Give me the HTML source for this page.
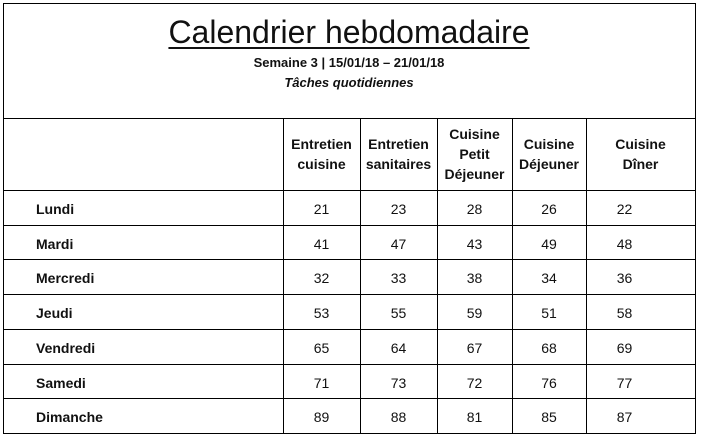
<!DOCTYPE html>
<html><head><meta charset="utf-8"><style>
body{margin:0;width:702px;height:437px;background:#fff;position:relative;overflow:hidden;font-family:"Liberation Sans",sans-serif;color:#111}
.a{position:absolute}
.ln{position:absolute;background:#000}
.t{position:absolute;text-align:center;font-size:14px}
</style></head><body>
<div class="a" style="left:3px;width:692px;top:14px;text-align:center;font-size:32px;"><span style="text-decoration:underline;text-decoration-thickness:2px;text-underline-offset:4px">Calendrier hebdomadaire</span></div>
<div class="a" style="left:3px;width:692px;top:55px;text-align:center;font-size:13px;font-weight:bold">Semaine 3 | 15/01/18 – 21/01/18</div>
<div class="a" style="left:3px;width:692px;top:75px;text-align:center;font-size:13px;font-weight:bold;font-style:italic">Tâches quotidiennes</div>
<div id="grid"></div>
<script>
const columns=["Entretien<br>cuisine","Entretien<br>sanitaires","Cuisine<br>Petit<br>Déjeuner","Cuisine<br>Déjeuner","Cuisine<br>Dîner"];
const days=["Lundi","Mardi","Mercredi","Jeudi","Vendredi","Samedi","Dimanche"];
const entretienCuisine=[21,41,32,53,65,71,89];
const entretienSanitaires=[23,47,33,55,64,73,88];
const cuisinePetitDej=[28,43,38,59,67,72,81];
const cuisineDejeuner=[26,49,34,51,68,76,85];
const cuisineDiner=[22,48,36,58,69,77,87];
const series=[entretienCuisine,entretienSanitaires,cuisinePetitDej,cuisineDejeuner,cuisineDiner];
const g=document.getElementById('grid');
const colX=[283,360,437,512,586,695];
const L=3,R=695,T=3,B=433,titleB=118,headB=190;
const rowH=(B-headB)/days.length;
function line(x,y,w,h,n){const d=document.createElement('div');d.className='ln';d.style.cssText=`left:${x}px;top:${y}px;width:${w}px;height:${h}px`;


g.appendChild(d);}
line(L,T,R-L+1,1,'border-top');line(L,B,R-L+1,1,'border-bottom');
line(L,T,1,B-T,'border-left');line(R,T,1,B-T,'border-right');
line(L,titleB,R-L,1,'title-divider');
for(let i=0;i<days.length;i++)line(L,headB+i*rowH,R-L,1,'row-divider');
for(let i=0;i<5;i++)line(colX[i],titleB,1,B-titleB,'column-divider');
columns.forEach((c,i)=>{const d=document.createElement('div');d.className='t';
d.style.cssText=`left:${colX[i]}px;width:${colX[i+1]-colX[i]}px;top:${titleB}px;height:${headB-titleB}px;display:flex;align-items:center;justify-content:center;font-weight:bold;font-size:14px;line-height:20px`;
d.innerHTML=c;


g.appendChild(d);});
days.forEach((dn,r)=>{const y=headB+r*rowH;
const d=document.createElement('div');d.className='a';d.style.cssText=`left:36px;top:${y+11}px;font-weight:bold;font-size:14px`;d.textContent=dn;


g.appendChild(d);
series.forEach((s,c)=>{const e=document.createElement('div');e.className='t';
let off=c===4?-16:0;
e.style.cssText=`left:${colX[c]+off}px;width:${colX[c+1]-colX[c]}px;top:${y+11}px`;e.textContent=s[r];


g.appendChild(e);});});
</script>
</body></html>
